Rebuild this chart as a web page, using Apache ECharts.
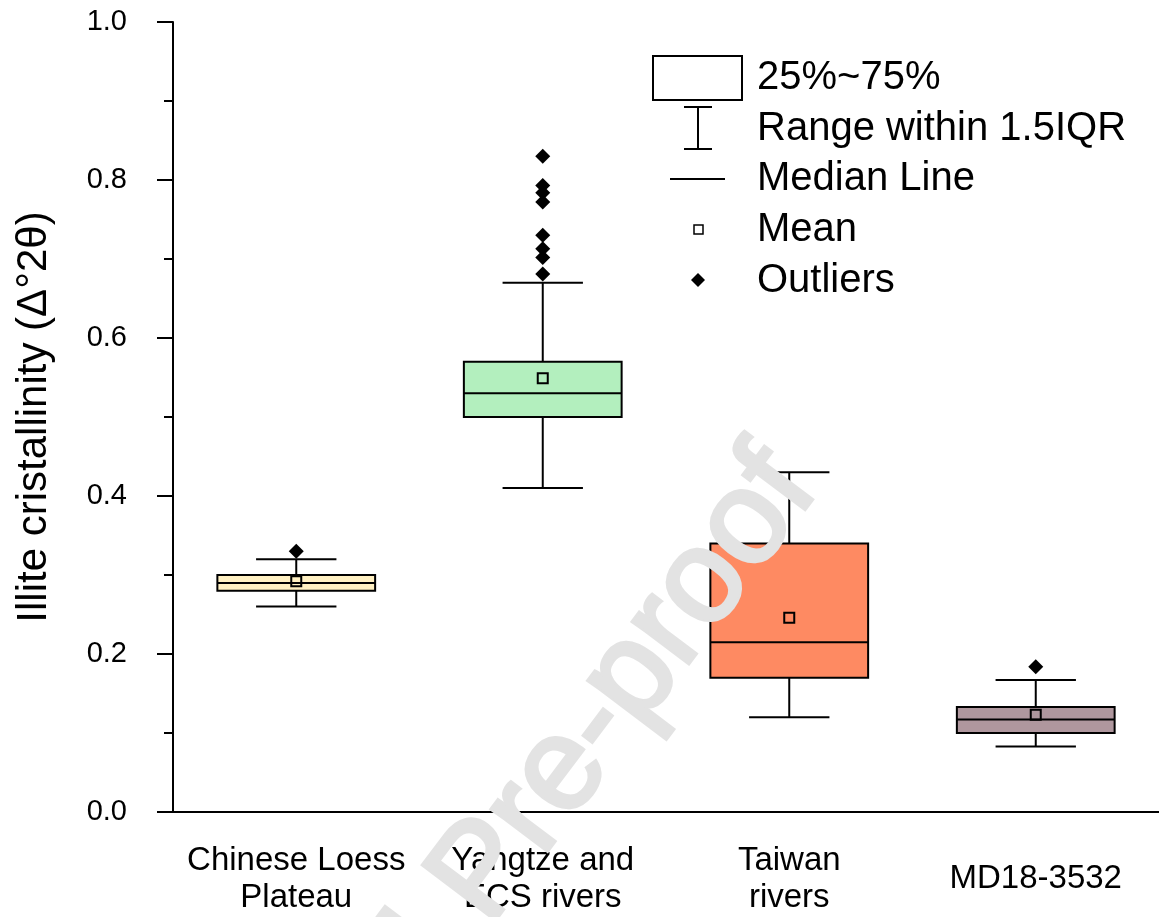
<!DOCTYPE html>
<html>
<head>
<meta charset="utf-8">
<title>Illite cristallinity</title>
<script src="https://cdn.jsdelivr.net/npm/echarts@6/dist/echarts.min.js"></script>
<style>
  html, body { margin: 0; padding: 0; background: #fff; }
  #chart { width: 1159px; height: 917px; }
</style>
</head>
<body>
<div id="chart"></div>
<script>
// sample groups
var categories = ['Chinese Loess\nPlateau', 'Yangtze and\nECS rivers', 'Taiwan\nrivers', 'MD18-3532']

// box statistics, one entry per group
var whiskerLow = [0.26, 0.41, 0.12, 0.083]
var q1 = [0.28, 0.50, 0.17, 0.10]
var median = [0.29, 0.53, 0.215, 0.117]
var q3 = [0.30, 0.57, 0.34, 0.133]
var whiskerHigh = [0.32, 0.67, 0.43, 0.167]
var means = [0.292, 0.549, 0.246, 0.123]

// outliers as [group index, value]
var outliers = [
  [0, 0.33],
  [1, 0.681], [1, 0.702], [1, 0.713], [1, 0.730],
  [1, 0.772], [1, 0.784], [1, 0.793], [1, 0.830],
  [3, 0.184]
]

var boxColors = ['#FFF0C2', '#B3EFBE', '#FE8A62', '#AF979E']
var FONT = 'Arial, "Liberation Sans", sans-serif'

var boxData = categories.map(function (c, i) {
  return [i, whiskerLow[i], q1[i], median[i], q3[i], whiskerHigh[i]]
})
var meanData = means.map(function (m, i) { return [i, m] })

function renderBox (params, api) {
  var x = api.value(0)
  var pMin = api.coord([x, api.value(1)])
  var pQ1 = api.coord([x, api.value(2)])
  var pMed = api.coord([x, api.value(3)])
  var pQ3 = api.coord([x, api.value(4)])
  var pMax = api.coord([x, api.value(5)])
  var band = api.size([1, 0])[0]
  var hw = band * 0.32
  var cw = band * 0.163
  var cx = pMed[0]
  var ln = { stroke: '#000', lineWidth: 2 }
  return {
    type: 'group',
    children: [
      { type: 'line', shape: { x1: cx, y1: pMax[1], x2: cx, y2: pQ3[1] }, style: ln },
      { type: 'line', shape: { x1: cx, y1: pQ1[1], x2: cx, y2: pMin[1] }, style: ln },
      { type: 'line', shape: { x1: cx - cw, y1: pMax[1], x2: cx + cw, y2: pMax[1] }, style: ln },
      { type: 'line', shape: { x1: cx - cw, y1: pMin[1], x2: cx + cw, y2: pMin[1] }, style: ln },
      {
        type: 'rect',
        shape: { x: cx - hw, y: pQ3[1], width: hw * 2, height: pQ1[1] - pQ3[1] },
        style: { fill: boxColors[params.dataIndex], stroke: '#000', lineWidth: 2 }
      },
      { type: 'line', shape: { x1: cx - hw, y1: pMed[1], x2: cx + hw, y2: pMed[1] }, style: ln }
    ]
  }
}

// hand drawn key, top right
var legendX = 757
var legendRows = [78, 129, 179, 230, 281]
var legendTexts = ['25%~75%', 'Range within 1.5IQR', 'Median Line', 'Mean', 'Outliers']
var keyLine = { stroke: '#000', lineWidth: 2 }
var graphics = [
  { type: 'rect', shape: { x: 653, y: 56, width: 89, height: 44 }, style: { fill: '#fff', stroke: '#000', lineWidth: 2 } },
  { type: 'line', shape: { x1: 698, y1: 107, x2: 698, y2: 149 }, style: keyLine },
  { type: 'line', shape: { x1: 684, y1: 107, x2: 712, y2: 107 }, style: keyLine },
  { type: 'line', shape: { x1: 684, y1: 149, x2: 712, y2: 149 }, style: keyLine },
  { type: 'line', shape: { x1: 670, y1: 179, x2: 725, y2: 179 }, style: keyLine },
  { type: 'rect', shape: { x: 694, y: 225, width: 9, height: 9 }, style: { fill: '#fff', stroke: '#000', lineWidth: 1.5 } },
  { type: 'polygon', shape: { points: [[698, 273], [705, 280], [698, 287], [691, 280]] }, style: { fill: '#000' } }
]
legendTexts.forEach(function (t, i) {
  graphics.push({
    type: 'text',
    x: legendX,
    y: legendRows[i],
    style: { text: t, font: '40px ' + FONT, fill: '#000', textVerticalAlign: 'middle' }
  })
})

// watermark
graphics.push({
  type: 'text',
  x: 791,
  y: 467,
  rotation: 53 * Math.PI / 180,
  z: 100,
  style: {
    text: 'Journal Pre-proof',
    font: '132px ' + FONT,
    fill: '#E3E3E3',
    stroke: '#E3E3E3',
    lineWidth: 4,
    textAlign: 'right',
    textVerticalAlign: 'middle'
  }
})

var chart = echarts.init(document.getElementById('chart'), null, { renderer: 'canvas' })

chart.setOption({
  animation: false,
  backgroundColor: '#fff',
  grid: { left: 173, right: 0, top: 22, bottom: 105, containLabel: false, outerBoundsMode: 'none' },
  xAxis: {
    type: 'category',
    data: categories,
    boundaryGap: true,
    axisLine: { lineStyle: { color: '#000', width: 2 } },
    axisTick: { alignWithLabel: true, length: 16, lineStyle: { color: '#000', width: 2 } },
    axisLabel: {
      color: '#000',
      fontFamily: FONT,
      fontSize: 33,
      lineHeight: 37,
      margin: 67,
      verticalAlign: 'middle',
      interval: 0
    },
    splitLine: { show: false }
  },
  yAxis: {
    type: 'value',
    min: 0,
    max: 1,
    interval: 0.2,
    name: 'Illite cristallinity (Δ°2θ)',
    nameLocation: 'middle',
    nameGap: 118,
    nameTextStyle: { color: '#000', fontFamily: FONT, fontSize: 42 },
    axisLine: { show: true, lineStyle: { color: '#000', width: 2 } },
    axisTick: { show: true, length: 16, lineStyle: { color: '#000', width: 2 } },
    minorTick: { show: true, splitNumber: 2, length: 9, lineStyle: { color: '#000', width: 2 } },
    axisLabel: {
      color: '#000',
      fontFamily: FONT,
      fontSize: 29,
      margin: 46,
      formatter: function (v) { return v.toFixed(1) }
    },
    splitLine: { show: false }
  },
  graphic: graphics,
  series: [
    {
      name: 'box',
      type: 'custom',
      renderItem: renderBox,
      data: boxData,
      encode: { x: 0, y: [1, 2, 3, 4, 5] },
      z: 2
    },
    {
      name: 'Mean',
      type: 'scatter',
      symbol: 'rect',
      symbolSize: 10,
      data: meanData,
      itemStyle: { color: 'rgba(0,0,0,0)', borderColor: '#000', borderWidth: 2, opacity: 1 },
      z: 5
    },
    {
      name: 'Outliers',
      type: 'scatter',
      symbol: 'diamond',
      symbolSize: 15,
      data: outliers,
      itemStyle: { color: '#000', opacity: 1 },
      z: 5
    }
  ]
})
</script>
</body>
</html>
